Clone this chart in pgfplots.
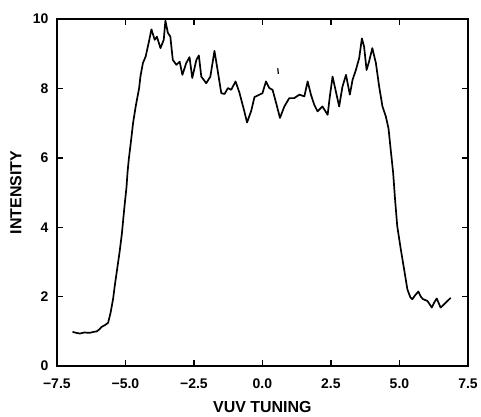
\documentclass[border=0pt]{standalone}
\usepackage{fontspec}
\setmainfont{Liberation Sans}
\usepackage{pgfplots}
\pgfplotsset{compat=1.18}
\begin{document}
\begin{tikzpicture}
\begin{axis}[
  name=ax,
  scale only axis, width=412pt, height=348pt,
  xmin=-7.5, xmax=7.5, ymin=0, ymax=10,
  xtick={-7.5,-5,-2.5,0,2.5,5,7.5},
  ytick={0,2,4,6,8,10},
  xticklabels={{\bfseries −7.5},{\bfseries −5.0},{\bfseries −2.5},{\bfseries 0.0},{\bfseries 2.5},{\bfseries 5.0},{\bfseries 7.5}},
  yticklabels={{\bfseries 0},{\bfseries 2},{\bfseries 4},{\bfseries 6},{\bfseries 8},{\bfseries 10}},
  tick align=inside, major tick length=6pt,
  axis line style={line width=1.6pt},
  tick style={line width=1.4pt, black},
  ticklabel style={font=\bfseries\fontsize{14}{14}\selectfont},
  xticklabel style={yshift=-9pt},
  yticklabel style={xshift=-5pt},
  xlabel={VUV TUNING}, ylabel={INTENSITY},
  label style={font=\bfseries\fontsize{16}{16}\selectfont},
  xlabel style={at={(axis description cs:0.5,-0.1178)}, anchor=center},
  ylabel style={at={(axis description cs:-0.0995,0.5)}, anchor=center},
]
\addplot[black, line width=1.7pt, line join=round] coordinates {
(-6.93,0.99) (-6.80,0.96) (-6.66,0.94) (-6.50,0.97) (-6.30,0.96) (-6.15,0.99)
(-6.05,1.00) (-5.95,1.06) (-5.87,1.13) (-5.75,1.18) (-5.63,1.25) (-5.54,1.54)
(-5.45,1.93) (-5.39,2.30) (-5.30,2.80) (-5.21,3.30) (-5.13,3.80) (-5.07,4.30)
(-5.02,4.70) (-4.96,5.15) (-4.92,5.60) (-4.87,6.00) (-4.80,6.45) (-4.72,7.00)
(-4.62,7.50) (-4.50,8.00) (-4.45,8.35) (-4.36,8.73) (-4.26,8.92) (-4.14,9.35)
(-4.05,9.70) (-3.93,9.40) (-3.85,9.49) (-3.72,9.16) (-3.60,9.40) (-3.54,9.95)
(-3.45,9.60) (-3.36,9.49) (-3.27,8.82) (-3.14,8.68) (-3.02,8.77) (-2.92,8.39)
(-2.78,8.73) (-2.66,8.90) (-2.56,8.30) (-2.41,8.82) (-2.32,8.95) (-2.23,8.34)
(-2.05,8.15) (-1.90,8.34) (-1.75,9.08) (-1.63,8.50) (-1.50,7.86) (-1.38,7.84)
(-1.26,8.01) (-1.14,7.96) (-0.98,8.20) (-0.84,7.88) (-0.66,7.34) (-0.56,7.02)
(-0.41,7.35) (-0.29,7.75) (-0.11,7.82) (0.00,7.86) (0.13,8.20) (0.25,8.01)
(0.37,7.96) (0.50,7.58) (0.64,7.15) (0.80,7.48) (0.98,7.72) (1.16,7.72)
(1.35,7.82) (1.53,7.77) (1.65,8.20) (1.77,7.82) (1.89,7.53) (2.01,7.34)
(2.19,7.48) (2.38,7.24) (2.46,7.77) (2.56,8.34) (2.68,7.91) (2.80,7.48)
(2.92,8.05) (3.05,8.39) (3.19,7.82) (3.29,8.25) (3.41,8.53) (3.53,8.87)
(3.63,9.44) (3.71,9.20) (3.80,8.53) (3.89,8.77) (4.01,9.16) (4.14,8.73)
(4.26,8.05) (4.38,7.48) (4.50,7.20) (4.60,6.85) (4.68,6.24) (4.77,5.57)
(4.84,4.80) (4.92,4.03) (5.05,3.36) (5.17,2.79) (5.29,2.21) (5.40,1.98)
(5.47,1.93) (5.58,2.05) (5.69,2.15) (5.78,2.00) (5.86,1.93) (6.02,1.88)
(6.18,1.69) (6.28,1.85) (6.36,1.95) (6.50,1.69) (6.60,1.76) (6.69,1.83)
(6.87,1.97)
};
\addplot[black, line width=1.2pt] coordinates {(0.56,8.58) (0.58,8.42)};
\end{axis}
\path ([shift={(-57pt,-50pt)}]ax.south west) rectangle ([shift={(12pt,19pt)}]ax.north east);
\end{tikzpicture}
\end{document}
